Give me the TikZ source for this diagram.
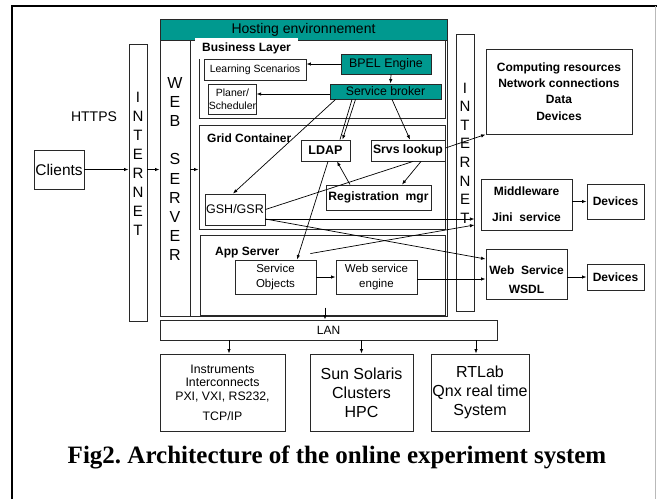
\documentclass[tikz,border=0pt]{standalone}
\usepackage{fontspec}
\setmainfont{Liberation Sans}
\newfontfamily\capfont{Liberation Serif}
\usetikzlibrary{arrows.meta}
\definecolor{teal1}{RGB}{0,153,143}
\definecolor{boxline}{RGB}{40,40,40}
\tikzset{
  bx/.style={draw=boxline, line width=0.9pt, rectangle, inner sep=0pt, align=center},
  fs/.style={font=\fontsize{#1}{#1}\selectfont},
  fsb/.style={font=\fontsize{#1}{#1}\selectfont\bfseries},
  arr/.style={line width=0.7pt, -{Latex[length=4.5pt,width=3.4pt]}},
  ln/.style={line width=0.7pt},
  lbl/.style={inner sep=0pt, anchor=west, font=\fontsize{12}{12}\selectfont\bfseries},
}
\begin{document}
\frenchspacing
\begin{tikzpicture}[x=1pt,y=-1pt]
\fill[white] (0,0) rectangle (657,499);
\useasboundingbox (0,0) rectangle (657,499);
% frame
\draw[line width=1.4pt] (12,499) -- (12,6) -- (657,6);
\draw[gray!55, line width=1pt] (655,6) -- (655,499);

% left side
\node[bx, minimum width=50, minimum height=39, fs=15.5] (clients) at (59,169.5) {Clients};
\node[inner sep=0pt, fs=14] (https) at (94,117) {HTTPS};
\node[bx, minimum width=18, minimum height=277] (inetL) at (138,182.5) {};
\node[inner sep=0pt, align=center, font=\fontsize{15}{19}\selectfont] (inetLt) at (138,164) {I\\N\\T\\E\\R\\N\\E\\T};

% hosting environment
\node[bx, minimum width=287, minimum height=297] (hosting) at (303.5,167.5) {};
\node[bx, fill=teal1, minimum width=287, minimum height=21, fs=14] (hosthead) at (303.5,29.5) {Hosting environnement};
\node[bx, minimum width=30, minimum height=276] (websrv) at (175,178) {};
\node[inner sep=0pt, align=center, font=\fontsize{16}{19.2}\selectfont] (websrvt) at (175,169) {W\\E\\B\\\mbox{}\\S\\E\\R\\V\\E\\R};

\node[bx, minimum width=246, minimum height=78] (business) at (322,79) {};
\node[bx, minimum width=246, minimum height=104] (grid) at (322,177) {};
\node[bx, minimum width=245, minimum height=80] (app) at (322.5,275) {};

\node[lbl, fill=white, inner xsep=7pt, minimum height=21.5] (bltxt) at (195,48.25) {Business Layer};
\node[lbl] (gctxt) at (207,138) {Grid Container};
\node[lbl] (astxt) at (215,253) {App Server};

% business layer
\node[bx, minimum width=102, minimum height=21, fs=10.5] (learn) at (255,69.5) {Learning Scenarios};
\node[bx, minimum width=45, minimum height=30, font=\fontsize{10.5}{13}\selectfont] (planer) at (232.5,99) {Planer/\\Scheduler};
\node[bx, fill=teal1, minimum width=90, minimum height=20, fs=12.4] (bpel) at (386,64) {BPEL Engine};
\node[bx, fill=teal1, minimum width=111, minimum height=15, fs=12.3] (broker) at (385.5,91.5) {Service broker};

% grid container
\node[bx, minimum width=49, minimum height=21, fsb=12.5] (ldap) at (325.5,150.5) {LDAP};
\node[bx, minimum width=74, minimum height=21, fsb=12.2] (srvs) at (408,150.5) {Srvs lookup};
\node[bx, minimum width=105, minimum height=25, fsb=12.1] (reg) at (378.5,197.5) {Registration\ \ mgr};
\node[bx, minimum width=60, minimum height=31, fs=12.5] (gsh) at (235,209.5) {GSH/GSR};

% app server
\node[bx, minimum width=81, minimum height=34, font=\fontsize{11.5}{15.5}\selectfont] (so) at (275.5,277) {Service\\Objects};
\node[bx, minimum width=81, minimum height=34, font=\fontsize{11.5}{15.5}\selectfont] (wse) at (376.5,277) {Web service\\engine};

% LAN and bottom
\node[bx, minimum width=337, minimum height=20, fs=12] (lan) at (328.5,330) {LAN};
\node[bx, minimum width=125, minimum height=77, font=\fontsize{12.3}{13.5}\selectfont] (instr) at (222.5,392.5) {Instruments\\Interconnects\\PXI, VXI, RS232,\\[6.5pt]TCP/IP};
\node[bx, minimum width=103, minimum height=77, font=\fontsize{16}{19}\selectfont] (sun) at (361.5,392.5) {Sun Solaris\\Clusters\\HPC};
\node[bx, minimum width=98, minimum height=77, font=\fontsize{16}{19}\selectfont] (rtlab) at (480,392.5) {RTLab\\Qnx real time\\System};

% right side
\node[bx, minimum width=18, minimum height=277] (inetR) at (465,172.5) {};
\node[inner sep=0pt, align=center, font=\fontsize{15}{18.6}\selectfont] (inetRt) at (465,153) {I\\N\\T\\E\\R\\N\\E\\T};
\node[bx, minimum width=146, minimum height=85, font=\fontsize{12}{16.3}\selectfont\bfseries] (comp) at (559,91.5) {Computing resources\\Network connections\\Data\\Devices};
\node[bx, minimum width=91, minimum height=51, font=\fontsize{12}{26}\selectfont\bfseries] (mid) at (526.5,204.5) {Middleware\\Jini\ \ service};
\node[bx, minimum width=57, minimum height=35, fsb=12] (dev1) at (615.5,201.5) {Devices};
\node[bx, minimum width=81, minimum height=50] (wsdl) at (526.5,274) {};
\node[inner sep=0pt, align=center, font=\fontsize{12}{18.5}\selectfont\bfseries] (wsdlt) at (526.5,279.5) {Web\ \ Service\\WSDL};
\node[bx, minimum width=57, minimum height=26, fsb=12] (dev2) at (615.5,277) {Devices};

% caption
\node[inner sep=0pt, font=\capfont\bfseries\fontsize{25}{25}\selectfont] (cap) at (337,457) {Fig2. Architecture of the online experiment system};

% helper coordinates
\coordinate (brkw) at ([yshift=-2.5pt]broker.west);
\coordinate (gshlo) at ([yshift=-9.5pt]gsh.east);
\coordinate (wsee) at ([yshift=-2pt]wse.east);

% connectors
\draw[arr] (clients.east) -- (clients.east -| inetL.west);
\draw[arr] (inetL.east |- clients.east) -- (websrv.west |- clients.east);
\draw[arr] (websrv.east |- clients.east) -- (grid.west |- clients.east);

\draw[arr] (bpel.west) -- (learn.east |- bpel.west);
\draw[arr] ([xshift=5pt]bpel.south) -- ([xshift=5pt]broker.north);
\draw[arr] (brkw) -- (planer.east |- brkw);
\draw[arr] ([xshift=-50pt]broker.south) -- ([xshift=-2pt]gsh.north);
\draw[ln] ([xshift=-33.5pt]broker.south) -- ([xshift=14.5pt]ldap.north);
\draw[arr] ([xshift=-30pt]broker.south) -- ([xshift=17pt]ldap.north);
\draw[arr] ([xshift=6.5pt]broker.south) -- ([xshift=2pt]srvs.north);
\draw[arr] ([xshift=13pt]srvs.south) -- ([xshift=23.5pt]reg.north);
\draw[arr] ([xshift=-28.5pt]reg.north) -- ([xshift=11.5pt]ldap.south);
\draw[ln] (gsh.east) -- ([xshift=5pt]srvs.south);
\draw[arr] ([yshift=2.5pt]srvs.east) -- (comp.south west);
\draw[arr] ([xshift=2.5pt]ldap.south) -- ([xshift=21.5pt]so.north);
\draw[arr] (gshlo) -- (inetR.east |- gshlo);
\draw[arr] (gshlo) -- ([yshift=15pt]wsdl.west);
\draw[arr] ([xshift=-6pt,yshift=6pt]so.north east) -- ([yshift=-52.5pt]inetR.east);
\draw[arr] (so.east) -- (wse.west);
\draw[arr] (wsee) -- (wsdl.west |- wsee);
\draw[arr] (dev1.west -| mid.east) -- (dev1.west);
\draw[arr] (dev2.west -| wsdl.east) -- (dev2.west);
\draw[arr] ([xshift=-3.5pt,yshift=12pt]lan.north) -- ([xshift=-3.5pt]lan.north);
\draw[arr] ([xshift=6.5pt]instr.north |- lan.south) -- ([xshift=6.5pt]instr.north);
\draw[arr] (sun.north |- lan.south) -- (sun.north);
\draw[arr] ([xshift=-4pt]rtlab.north |- lan.south) -- ([xshift=-4pt]rtlab.north);
\end{tikzpicture}
\end{document}
